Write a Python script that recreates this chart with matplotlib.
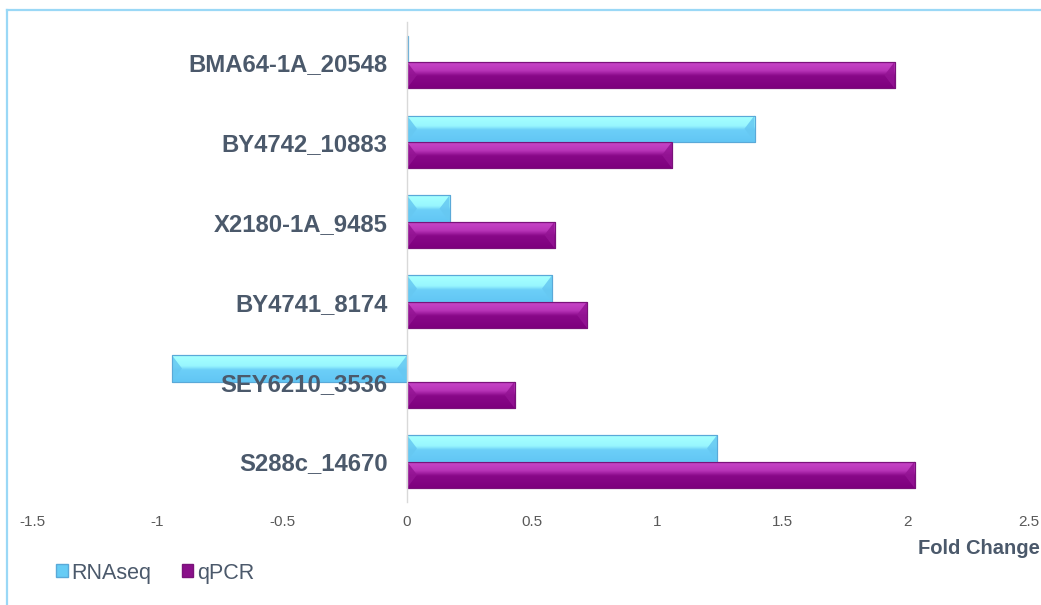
import numpy as np
import matplotlib
matplotlib.use("Agg")
import matplotlib.pyplot as plt
import matplotlib.transforms as mtransforms
from matplotlib.colors import LinearSegmentedColormap
from matplotlib.patches import Polygon, Patch

# fold change per strain, RNAseq vs qPCR
strains = ["BMA64-1A_20548", "BY4742_10883", "X2180-1A_9485",
           "BY4741_8174", "SEY6210_3536", "S288c_14670"]
rnaseq = [0.005, 1.39, 0.17, 0.58, -0.94, 1.24]
qpcr = [1.95, 1.06, 0.59, 0.72, 0.43, 2.03]
xticks = [-1.5, -1, -0.5, 0, 0.5, 1, 1.5, 2, 2.5]

narrow = ["Liberation Sans Narrow", "Liberation Sans", "DejaVu Sans"]
label_col = "#4b596b"
tick_col = "#595959"

cyan_cmap = LinearSegmentedColormap.from_list(
    "cy", [(0, "#8fe6fa"), (0.06, "#a4ffff"), (0.4, "#98f6fe"),
           (0.55, "#6ccff8"), (1, "#62c6f4")])
purple_cmap = LinearSegmentedColormap.from_list(
    "pu", [(0, "#a223a2"), (0.1, "#c442c4"), (0.35, "#b834b8"),
           (0.55, "#880888"), (1, "#7e007e")])

fig = plt.figure(figsize=(10.41, 6.05), dpi=100)
ax = fig.add_axes([32 / 1041, 1 - 501.5 / 605, 1000 / 1041, 479.5 / 605])

y = np.arange(len(strains))
h = 0.33
b1 = ax.barh(y - h / 2, rnaseq, height=h, color="#66ccf5",
             edgecolor="#5aa9d8", linewidth=0.8, zorder=1)
b2 = ax.barh(y + h / 2, qpcr, height=h, color="#800080",
             edgecolor="#7a127a", linewidth=0.8, zorder=1)

ax.set_xlim(-1.5, 2.5)
ax.set_ylim(len(strains) - 0.5, -0.5)

# bevel width in data units (about 10 px)
bx = 10 * 4.0 / 1000

grad = np.linspace(0, 1, 64).reshape(-1, 1)


def shade(bars, cmap, side_col):
    for bar in bars:
        x0, x1 = sorted([bar.get_x(), bar.get_x() + bar.get_width()])
        yt, yb = bar.get_y(), bar.get_y() + bar.get_height()
        ym = (yt + yb) / 2
        if x1 - x0 < 1e-6:
            continue
        im = ax.imshow(grad, cmap=cmap, aspect="auto",
                       extent=(x0, x1, yb, yt), origin="upper",
                       interpolation="bilinear", zorder=1.1)
        im.set_clip_path(bar)
        w = min(bx, (x1 - x0) / 2)
        for xe, xi in [(x0, x0 + w), (x1, x1 - w)]:
            ax.add_patch(Polygon([(xe, yt), (xi, ym), (xe, yb)], closed=True,
                                 facecolor=side_col, alpha=0.85,
                                 edgecolor="none", zorder=1.2))
        ax.add_patch(plt.Rectangle((x0, yt), x1 - x0, yb - yt, fill=False,
                                   edgecolor=bar.get_edgecolor(),
                                   linewidth=0.8, zorder=1.3))


shade(b1, cyan_cmap, "#66c8f2")
shade(b2, purple_cmap, "#941494")

# category axis sits at zero
ax.spines["left"].set_position(("data", 0))
ax.spines["left"].set_color("#d9d9d9")
ax.spines["left"].set_linewidth(1.0)
for s in ["top", "right", "bottom"]:
    ax.spines[s].set_visible(False)

ax.set_yticks(y)
ax.set_yticklabels(strains, fontsize=17.2, fontweight="bold",
                   color=label_col, family=["Liberation Sans", "DejaVu Sans"])
ax.tick_params(axis="y", length=0, pad=14)

ax.set_xticks(xticks)
ax.set_xticklabels([f"{t:g}" for t in xticks], fontsize=11, color=tick_col,
                   family=narrow)
ax.tick_params(axis="x", length=0, pad=10)
# keep the last tick label inside the figure
last = ax.get_xticklabels()[-1]
last.set_horizontalalignment("right")
last.set_transform(last.get_transform() +
                   mtransforms.ScaledTranslation(7 / 100, 0, fig.dpi_scale_trans))

fig.text(1040 / 1041, 1 - 548 / 605, "Fold Change", ha="right", va="center",
         fontsize=14.5, fontweight="bold", color=label_col, family=narrow)

handles = [Patch(facecolor="#66ccf5", edgecolor="#5aa9d8", label="RNAseq"),
           Patch(facecolor="#8a108a", edgecolor="#7a127a", label="qPCR")]
leg = fig.legend(handles=handles, loc="center left",
                 bbox_to_anchor=(37 / 1041, 1 - 573 / 605), ncol=2, frameon=False,
                 handlelength=0.55, handleheight=0.55, handletextpad=0.15,
                 columnspacing=1.4, prop={"family": narrow, "size": 15.5})
for t in leg.get_texts():
    t.set_color(label_col)

# chart border on top and left
fig.add_artist(plt.Line2D([7 / 1041, 1], [1 - 10 / 605, 1 - 10 / 605],
                          color="#9ad8f6", linewidth=1.6))
fig.add_artist(plt.Line2D([7 / 1041, 7 / 1041], [0, 1 - 10 / 605],
                          color="#9ad8f6", linewidth=1.6))

fig.savefig("out.png", dpi=100)
